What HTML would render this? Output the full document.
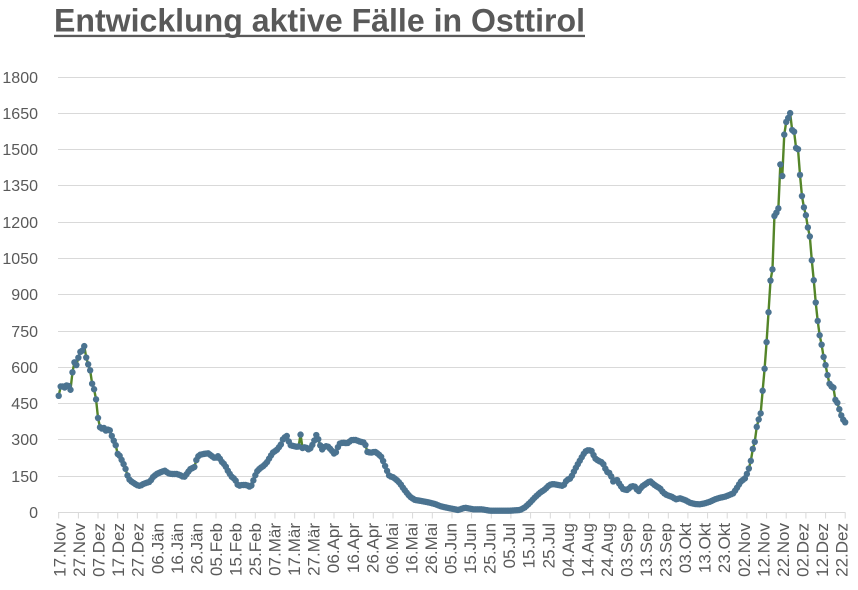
<!DOCTYPE html>
<html>
<head>
<meta charset="utf-8">
<style>
html,body{margin:0;padding:0;background:#fff;}
body{width:858px;height:590px;overflow:hidden;}
svg{display:block;}
text{font-family:"Liberation Sans",Arial,sans-serif;fill:#595959;}
</style>
</head>
<body>
<svg id="chart" width="858" height="590" viewBox="0 0 858 590" xmlns="http://www.w3.org/2000/svg">
<!-- Title -->
<text x="54" y="31.5" font-size="32" font-weight="bold" textLength="531" lengthAdjust="spacingAndGlyphs">Entwicklung aktive Fälle in Osttirol</text>
<rect x="54" y="34.8" width="531" height="2.3" fill="#595959"/>

<!-- Gridlines -->
<g stroke="#d9d9d9" stroke-width="1">
<line x1="58" x2="845.5" y1="77.5" y2="77.5"/>
<line x1="58" x2="845.5" y1="113.5" y2="113.5"/>
<line x1="58" x2="845.5" y1="149.5" y2="149.5"/>
<line x1="58" x2="845.5" y1="185.5" y2="185.5"/>
<line x1="58" x2="845.5" y1="222.5" y2="222.5"/>
<line x1="58" x2="845.5" y1="258.5" y2="258.5"/>
<line x1="58" x2="845.5" y1="294.5" y2="294.5"/>
<line x1="58" x2="845.5" y1="331.5" y2="331.5"/>
<line x1="58" x2="845.5" y1="367.5" y2="367.5"/>
<line x1="58" x2="845.5" y1="403.5" y2="403.5"/>
<line x1="58" x2="845.5" y1="439.5" y2="439.5"/>
<line x1="58" x2="845.5" y1="476.5" y2="476.5"/>
<line x1="58" x2="845.5" y1="512.5" y2="512.5"/>
</g>
<!-- ticks -->
<path stroke="#d9d9d9" stroke-width="1" fill="none" d="M58.7 512.5v6M78.4 512.5v6M98.0 512.5v6M117.7 512.5v6M137.4 512.5v6M157.0 512.5v6M176.7 512.5v6M196.3 512.5v6M216.0 512.5v6M235.7 512.5v6M255.3 512.5v6M275.0 512.5v6M294.7 512.5v6M314.3 512.5v6M334.0 512.5v6M353.6 512.5v6M373.3 512.5v6M393.0 512.5v6M412.6 512.5v6M432.3 512.5v6M452.0 512.5v6M471.6 512.5v6M491.3 512.5v6M510.9 512.5v6M530.6 512.5v6M550.3 512.5v6M569.9 512.5v6M589.6 512.5v6M609.3 512.5v6M628.9 512.5v6M648.6 512.5v6M668.3 512.5v6M687.9 512.5v6M707.6 512.5v6M727.2 512.5v6M746.9 512.5v6M766.6 512.5v6M786.2 512.5v6M805.9 512.5v6M825.6 512.5v6M845.2 512.5v6"/>

<!-- Y labels -->
<g font-size="16" text-anchor="end">
<text x="38" y="83">1800</text>
<text x="38" y="119">1650</text>
<text x="38" y="155">1500</text>
<text x="38" y="191">1350</text>
<text x="38" y="228">1200</text>
<text x="38" y="264">1050</text>
<text x="38" y="300">900</text>
<text x="38" y="337">750</text>
<text x="38" y="373">600</text>
<text x="38" y="409">450</text>
<text x="38" y="445">300</text>
<text x="38" y="482">150</text>
<text x="38" y="518">0</text>
</g>

<!-- X labels -->
<g font-size="17" text-anchor="end">
<text transform="translate(65.5,523) rotate(-90)">17.Nov</text>
<text transform="translate(85.05,523) rotate(-90)">27.Nov</text>
<text transform="translate(104.6,523) rotate(-90)">07.Dez</text>
<text transform="translate(124.15,523) rotate(-90)">17.Dez</text>
<text transform="translate(143.7,523) rotate(-90)">27.Dez</text>
<text transform="translate(163.25,523) rotate(-90)">06.Jän</text>
<text transform="translate(182.8,523) rotate(-90)">16.Jän</text>
<text transform="translate(202.35,523) rotate(-90)">26.Jän</text>
<text transform="translate(221.9,523) rotate(-90)">05.Feb</text>
<text transform="translate(241.45,523) rotate(-90)">15.Feb</text>
<text transform="translate(261,523) rotate(-90)">25.Feb</text>
<text transform="translate(280.55,523) rotate(-90)">07.Mär</text>
<text transform="translate(300.1,523) rotate(-90)">17.Mär</text>
<text transform="translate(319.65,523) rotate(-90)">27.Mär</text>
<text transform="translate(339.2,523) rotate(-90)">06.Apr</text>
<text transform="translate(358.75,523) rotate(-90)">16.Apr</text>
<text transform="translate(378.3,523) rotate(-90)">26.Apr</text>
<text transform="translate(397.85,523) rotate(-90)">06.Mai</text>
<text transform="translate(417.4,523) rotate(-90)">16.Mai</text>
<text transform="translate(436.95,523) rotate(-90)">26.Mai</text>
<text transform="translate(456.5,523) rotate(-90)">05.Jun</text>
<text transform="translate(476.05,523) rotate(-90)">15.Jun</text>
<text transform="translate(495.6,523) rotate(-90)">25.Jun</text>
<text transform="translate(515.15,523) rotate(-90)">05.Jul</text>
<text transform="translate(534.7,523) rotate(-90)">15.Jul</text>
<text transform="translate(554.25,523) rotate(-90)">25.Jul</text>
<text transform="translate(573.8,523) rotate(-90)">04.Aug</text>
<text transform="translate(593.35,523) rotate(-90)">14.Aug</text>
<text transform="translate(612.9,523) rotate(-90)">24.Aug</text>
<text transform="translate(632.45,523) rotate(-90)">03.Sep</text>
<text transform="translate(652,523) rotate(-90)">13.Sep</text>
<text transform="translate(671.55,523) rotate(-90)">23.Sep</text>
<text transform="translate(691.1,523) rotate(-90)">03.Okt</text>
<text transform="translate(710.65,523) rotate(-90)">13.Okt</text>
<text transform="translate(730.2,523) rotate(-90)">23.Okt</text>
<text transform="translate(749.75,523) rotate(-90)">02.Nov</text>
<text transform="translate(769.3,523) rotate(-90)">12.Nov</text>
<text transform="translate(788.85,523) rotate(-90)">22.Nov</text>
<text transform="translate(808.4,523) rotate(-90)">02.Dez</text>
<text transform="translate(827.95,523) rotate(-90)">12.Dez</text>
<text transform="translate(847.5,523) rotate(-90)">22.Dez</text>
</g>

<!-- Series -->
<polyline id="ln" fill="none" stroke="#548529" stroke-width="2.4" stroke-linejoin="round" points="57.3,404.3 59,394 61,385 63.3,387 65.7,388 67.7,382 70,393 71.7,382 73.3,361.7 75.7,363 77.3,367.7 79,351.7 81.7,352 84.3,346 85.5,350.7 86.7,362 89.3,366 90.7,373 92.7,388 95,390 96.7,405 98.3,420.7 100.7,430 103.3,427 105.7,430.7 108.3,429.3 110.7,431 112.7,440 115.3,441.7 116.7,453.3 119.3,455 121.7,460 124,465 126,470 128.3,478.3 130.7,481 133.3,482.7 136.7,485 140,486 143.3,484 146.7,482.7 150,481.7 153.3,476.7 156.7,474 161.7,471.7 165,470.7 168.3,473.3 171.7,474 176.7,474 180,475 184,477.3 186.7,474 190,469.3 195,466.7 196.7,458.3 199.3,455 203.3,454 208.3,453.3 211.7,456 215,458.3 218.3,456 221.7,461.7 225,465 228.3,471.7 231.7,476.7 235,479.3 238.3,486 241.7,485 246.7,485 250.7,487.3 253.3,480.5 256.7,471.7 260,468.3 263.3,466 266.7,462.7 269.3,458.3 272.7,452.7 276.7,450 280.7,445 283.3,438.3 286.8,436 290,445 293.3,446 296.7,446.7 298.6,446.5 300.6,434.3 302.7,449.3 305,446.7 309.3,450 313.3,443.3 316.3,435 318.3,439.3 321.7,450 325,446 328.3,446.7 332.7,451.7 335,455 337.3,448.3 340,443.3 343.3,442.7 347.3,443.3 351.7,440 356,440 360,441.7 365,442.7 366.7,451.7 370.7,452.7 375,451.7 378.3,454 381.7,457.3 384,463.3 386.7,470 389.3,476 393.3,477.3 396.7,480 400,483.3 403.3,488.3 406.7,492.7 410,496.7 415,500 420,500.7 425,501.7 430,502.7 435,504 440,506 445,507.3 450,508.3 455,509.3 458,510 465,507.7 473.3,509.3 481.7,509.3 490,510.7 500,510.7 510,510.7 520,510 525,507.3 530,502.7 535,497.3 540,492.7 545,489.3 549.3,485 553.3,484 558.3,485 563.3,486 566.7,480 570.7,478.3 575,469.3 578.3,463.3 581.7,457.3 585,451.7 588.3,450 591.7,451 595,458.3 598.3,460.7 602.7,462.7 606.7,471.7 610,473.3 613.3,481.7 616.7,479.3 620,485 623.3,489.3 627.3,490 631.7,486 635,486.7 638.3,491.7 641.7,486.7 646.7,483.3 650,481 653.3,484 656,486 660,488.3 663.3,492.7 666.7,495 671.7,496.7 676,499.3 680,498.3 685,500 690,502.7 695,504 700,504.3 705,503.3 710,501.7 715,499.3 720,497.7 725,496.7 729.3,495 733.3,493.3 737.3,487.3 740.7,481.7 745,478.3 748.3,470.7 750.7,461.7 752.7,449.3 755,441 756.7,427 758.3,420.7 760.7,413.3 762.7,390 765,364.3 767,336 769,305 770.7,277.3 772.7,268.3 774.4,216 776.4,212.7 778.4,208.3 780.3,164.3 782.3,176 784.2,135 786.2,122 788.2,118 790.2,113 792.1,130 794.1,131.7 796.1,148.3 798.3,149.3 800,175 801.7,194.3 803.3,205 805.7,214 807.7,226.7 810,237.3 811.7,259.3 814,282.7 815.7,302.3 817.7,321 820,337.7 821.7,345 823.7,357.7 825.7,365.7 827.7,376 830,386 833.3,386.7 835,399.3 837.7,403.3 840,411.7 842.3,418.3 845,422.3"/>
<g id="markers" fill="#4b7390"></g>
</svg>
<script>
(function(){
  var ln=document.getElementById('ln');
  var raw=ln.getAttribute('points').trim().split(/\s+/).map(function(p){var a=p.split(',');return [parseFloat(a[0]),parseFloat(a[1])];});
  function yAt(x){
    if(x<=raw[0][0])return raw[0][1];
    for(var i=1;i<raw.length;i++){
      if(x<=raw[i][0]){
        var a=raw[i-1],b=raw[i];
        var t=(x-a[0])/(b[0]-a[0]);
        return a[1]+t*(b[1]-a[1]);
      }
    }
    return raw[raw.length-1][1];
  }
  var g=document.getElementById('markers');
  var ns='http://www.w3.org/2000/svg';
  var daily=[];
  for(var d=0;d<=400;d++){
    var x=58.7+d*1.9663;
    if(x>845.2)x=845.2;
    daily.push([x,yAt(x)]);
  }
  ln.setAttribute('points',daily.map(function(p){return p[0].toFixed(2)+','+p[1].toFixed(2);}).join(' '));
  for(var k=0;k<daily.length;k++){
    var c=document.createElementNS(ns,'circle');
    c.setAttribute('cx',daily[k][0].toFixed(2));
    c.setAttribute('cy',daily[k][1].toFixed(2));
    c.setAttribute('r','3.2');
    g.appendChild(c);
  }
})();
</script>
</body>
</html>
